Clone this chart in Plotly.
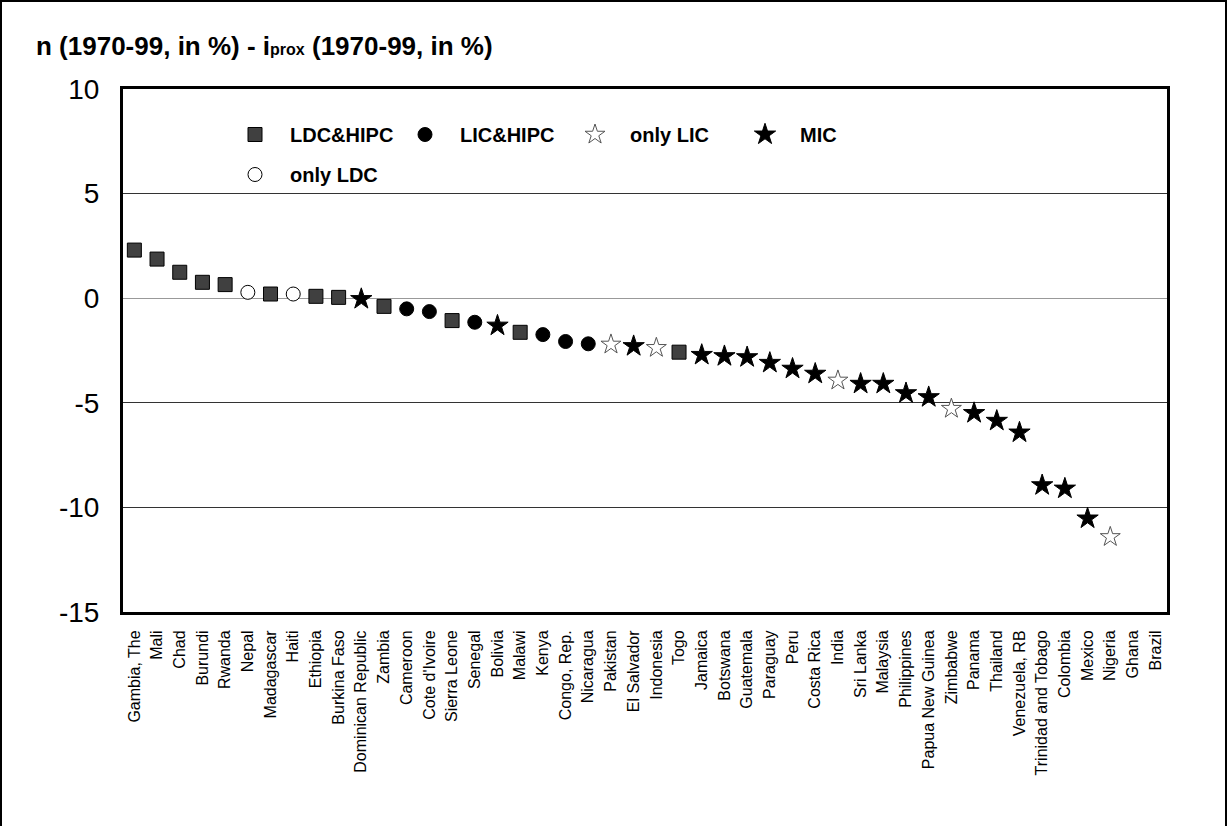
import plotly.graph_objects as go

countries = ["Gambia, The", "Mali", "Chad", "Burundi", "Rwanda", "Nepal", "Madagascar", "Haiti",
             "Ethiopia", "Burkina Faso", "Dominican Republic", "Zambia", "Cameroon", "Cote d'Ivoire",
             "Sierra Leone", "Senegal", "Bolivia", "Malawi", "Kenya", "Congo, Rep.", "Nicaragua",
             "Pakistan", "El Salvador", "Indonesia", "Togo", "Jamaica", "Botswana", "Guatemala",
             "Paraguay", "Peru", "Costa Rica", "India", "Sri Lanka", "Malaysia", "Philippines",
             "Papua New Guinea", "Zimbabwe", "Panama", "Thailand", "Venezuela, RB",
             "Trinidad and Tobago", "Colombia", "Mexico", "Nigeria", "Ghana", "Brazil"]

values = [2.30, 1.87, 1.24, 0.76, 0.65, 0.28, 0.20, 0.20,
          0.09, 0.04, -0.04, -0.39, -0.51, -0.64,
          -1.07, -1.15, -1.31, -1.63, -1.74, -2.07, -2.18,
          -2.21, -2.29, -2.37, -2.58, -2.71, -2.77, -2.82,
          -3.09, -3.37, -3.61, -3.93, -4.09, -4.09, -4.54,
          -4.73, -5.28, -5.49, -5.86, -6.42,
          -8.94, -9.10, -10.53, -11.41, None, None]

groups = ["LDC&HIPC", "LDC&HIPC", "LDC&HIPC", "LDC&HIPC", "LDC&HIPC", "only LDC", "LDC&HIPC", "only LDC",
          "LDC&HIPC", "LDC&HIPC", "MIC", "LDC&HIPC", "LIC&HIPC", "LIC&HIPC",
          "LDC&HIPC", "LIC&HIPC", "MIC", "LDC&HIPC", "LIC&HIPC", "LIC&HIPC", "LIC&HIPC",
          "only LIC", "MIC", "only LIC", "LDC&HIPC", "MIC", "MIC", "MIC",
          "MIC", "MIC", "MIC", "only LIC", "MIC", "MIC", "MIC",
          "MIC", "only LIC", "MIC", "MIC", "MIC",
          "MIC", "MIC", "MIC", "only LIC", None, None]

group_order = ["LDC&HIPC", "LIC&HIPC", "only LIC", "MIC", "only LDC"]

y_tickvals = [10, 5, 0, -5, -10, -15]
y_ticktext = ["10", "5", "0", "-5", "-10", "-15"]

styles = {
    "LDC&HIPC": dict(symbol="square", size=14, color="#404040", line=dict(color="#000000", width=1)),
    "LIC&HIPC": dict(symbol="circle", size=14, color="#000000", line=dict(color="#000000", width=1)),
    "only LIC": dict(symbol="star", size=15, color="#ffffff", line=dict(color="#555555", width=1)),
    "MIC": dict(symbol="star", size=16, color="#000000", line=dict(color="#000000", width=1)),
    "only LDC": dict(symbol="circle", size=14, color="#ffffff", line=dict(color="#000000", width=1)),
}

FONT = "Liberation Sans, Arial, sans-serif"

fig = go.Figure()
for g in group_order:
    xs = [c for c, v, gg in zip(countries, values, groups) if gg == g]
    ys = [v for c, v, gg in zip(countries, values, groups) if gg == g]
    fig.add_trace(go.Scatter(
        x=xs, y=ys, mode="markers", name=g,
        marker=styles[g],
        legend="legend2" if g == "only LDC" else "legend",
        cliponaxis=True,
    ))

W, H = 1229, 826
L, R, T, B = 123, 62, 89, 214
pw, ph = W - L - R, H - T - B

def px_x(x):
    return (x - L) / pw

def px_y(y):
    return (H - B - y) / ph

legend_font = dict(family=FONT, size=20, color="#000000", weight="bold")

fig.update_layout(
    width=W, height=H,
    margin=dict(l=L, r=R, t=T, b=B),
    paper_bgcolor="#ffffff", plot_bgcolor="#ffffff",
    font=dict(family=FONT, color="#000000"),
    title=dict(
        text="<b>n (1970-99, in %) - i<span style='font-size:16px'>prox</span> (1970-99, in %)</b>",
        font=dict(family=FONT, size=26, color="#000000"),
        x=36 / W, xanchor="left", y=1 - 46 / H, yanchor="middle",
    ),
    xaxis=dict(
        type="category", categoryorder="array", categoryarray=countries,
        range=[-0.5, len(countries) - 0.5],
        showgrid=False, showline=True, linewidth=3, linecolor="#000000", mirror=True,
        tickangle=-90, tickfont=dict(family=FONT, size=16, color="#000000"),
        ticks="", ticklabelstandoff=9, zeroline=False,
    ),
    yaxis=dict(
        range=[-15, 10], tickmode="array", tickvals=y_tickvals, ticktext=y_ticktext,
        showgrid=True, gridcolor="#333333", gridwidth=1,
        zeroline=True, zerolinecolor="#999999", zerolinewidth=1,
        showline=True, linewidth=3, linecolor="#000000", mirror=True,
        tickfont=dict(family=FONT, size=28, color="#000000"),
        ticks="", ticklabelstandoff=15,
    ),
    legend=dict(
        orientation="h", x=px_x(220), xanchor="left", y=px_y(115), yanchor="top",
        font=legend_font, itemwidth=60, entrywidth=95, entrywidthmode="pixels",
        bgcolor="rgba(0,0,0,0)", borderwidth=0, itemsizing="trace",
    ),
    legend2=dict(
        orientation="h", x=px_x(220), xanchor="left", y=px_y(155), yanchor="top",
        font=legend_font, itemwidth=60, entrywidth=95, entrywidthmode="pixels",
        bgcolor="rgba(0,0,0,0)", borderwidth=0, itemsizing="trace",
    ),
    showlegend=True,
    shapes=[dict(
        type="rect", xref="paper", yref="paper",
        x0=px_x(1), x1=px_x(1226), y0=px_y(840), y1=px_y(1),
        line=dict(color="#000000", width=2), fillcolor="rgba(0,0,0,0)", layer="below",
    )],
)

fig.write_html("out.html", config={"displayModeBar": False},
               post_script="document.body.style.margin='0';")
